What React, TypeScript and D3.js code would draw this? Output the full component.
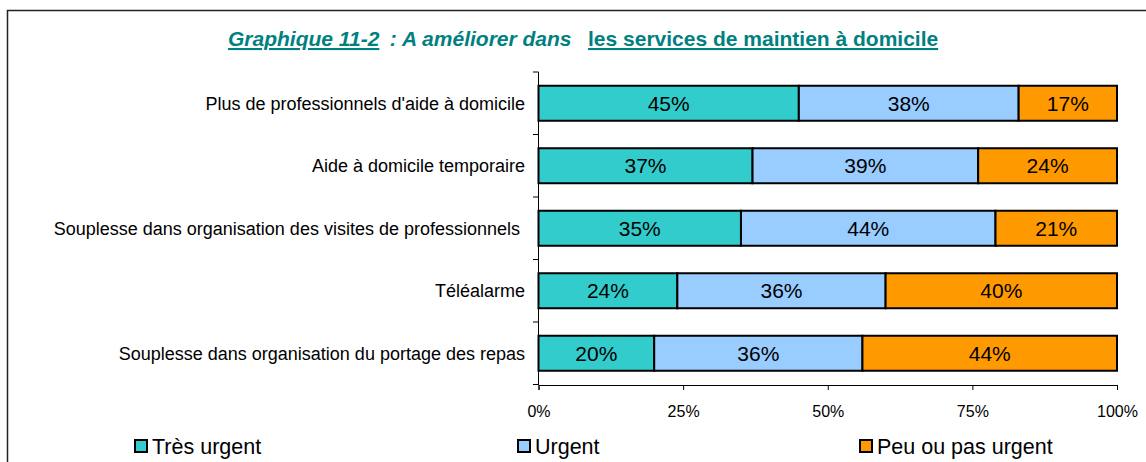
import React, { useEffect, useRef } from "react";
import * as d3 from "d3";

const categories = [
  "Plus de professionnels d'aide à domicile",
  "Aide à domicile temporaire",
  "Souplesse dans organisation des visites de professionnels ",
  "Téléalarme",
  "Souplesse dans organisation du portage des repas",
];
const seriesNames = ["Très urgent", "Urgent", "Peu ou pas urgent"];
const tresUrgent = [45, 37, 35, 24, 20];
const urgent = [38, 39, 44, 36, 36];
const peuUrgent = [17, 24, 21, 40, 44];
const xTicks = [0, 25, 50, 75, 100];
const colors = ["#33CCCC", "#99CCFF", "#FF9900"];

const App = () => {
  const svgRef = useRef<SVGSVGElement>(null);

  useEffect(() => {
    const svg = d3.select(svgRef.current);
    svg.selectAll("*").remove();
    const font = "Arial, 'Liberation Sans', sans-serif";

    // frame
    svg.append("path")
      .attr("d", "M7.5,462 V10.5 H1146")
      .attr("fill", "none")
      .attr("stroke", "#222")
      .attr("stroke-width", 1.5);

    // title
    const title = svg.append("text")
      .attr("y", 46)
      .attr("font-family", font)
      .attr("font-size", 21)
      .attr("font-weight", "bold")
      .attr("fill", "#008080")
      .style("white-space", "pre");
    title.append("tspan").attr("x", 228).attr("font-style", "italic").attr("text-decoration", "underline").text("Graphique 11-2");
    title.append("tspan").attr("x", 384).attr("font-style", "italic").text(" : A améliorer dans");
    title.append("tspan").attr("x", 588).attr("text-decoration", "underline").text("les services de maintien à domicile");

    const x = d3.scaleLinear().domain([0, 100]).range([538.5, 1117]);
    const y = d3.scaleBand().domain(categories).range([72, 384.5]).paddingInner(0.44).paddingOuter(0.22);

    const rows = categories.map((c, i) => [tresUrgent[i], urgent[i], peuUrgent[i]]);

    const g = svg.append("g");
    rows.forEach((vals, i) => {
      let acc = 0;
      vals.forEach((v, j) => {
        const x0 = x(acc);
        const x1 = x(acc + v);
        acc += v;
        g.append("rect")
          .attr("x", x0)
          .attr("y", y(categories[i])!)
          .attr("width", x1 - x0)
          .attr("height", y.bandwidth())
          .attr("fill", colors[j])
          .attr("stroke", "#000")
          .attr("stroke-width", 2);
        g.append("text")
          .attr("x", (x0 + x1) / 2)
          .attr("y", y(categories[i])! + y.bandwidth() / 2)
          .attr("dy", "0.36em")
          .attr("text-anchor", "middle")
          .attr("font-family", font)
          .attr("font-size", 21)
          .text(v + "%");
      });
    });

    // y axis
    const step = y.step();
    const yAxis = svg.append("g").attr("stroke", "#000").attr("stroke-width", 1);
    yAxis.append("line").attr("x1", 538.5).attr("x2", 538.5).attr("y1", 72).attr("y2", 385);
    d3.range(categories.length + 1).forEach((k) => {
      const yy = 72 + k * step;
      yAxis.append("line").attr("x1", 533).attr("x2", 538.5).attr("y1", yy).attr("y2", yy);
    });
    categories.forEach((c) => {
      svg.append("text")
        .attr("x", 525)
        .attr("y", y(c)! + y.bandwidth() / 2)
        .attr("dy", "0.36em")
        .attr("text-anchor", "end")
        .attr("font-family", font)
        .attr("font-size", 18)
        .style("white-space", "pre")
        .text(c);
    });

    // x axis
    const xAxis = svg.append("g")
      .attr("transform", "translate(0,385)")
      .call(d3.axisBottom(x).tickValues(xTicks).tickSize(5).tickPadding(16).tickFormat((d) => d + "%"));
    xAxis.select(".domain").attr("stroke", "#000");
    xAxis.selectAll("text").attr("font-family", font).attr("font-size", 16).attr("fill", "#000");

    // legend
    const legendX = [135, 518, 860];
    seriesNames.forEach((s, i) => {
      svg.append("rect")
        .attr("x", legendX[i])
        .attr("y", 440)
        .attr("width", 12)
        .attr("height", 12)
        .attr("fill", colors[i])
        .attr("stroke", "#000")
        .attr("stroke-width", 2);
      svg.append("text")
        .attr("x", legendX[i] + 17)
        .attr("y", 446)
        .attr("dy", "0.36em")
        .attr("font-family", font)
        .attr("font-size", 21.5)
        .text(s);
    });
  }, []);

  return (
    <div style={{ position: "absolute", left: 0, top: 0 }}>
      <svg ref={svgRef} width={1146} height={462} style={{ display: "block", background: "#fff" }} />
    </div>
  );
};

export default App;
